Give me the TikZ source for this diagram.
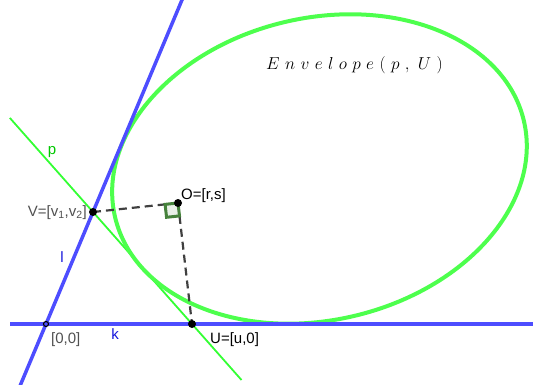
\RequirePackage{fix-cm}
\documentclass[tikz,border=0pt]{standalone}
\usepackage{fontspec}
\setsansfont{Liberation Sans}
\usetikzlibrary{calc}
\definecolor{lblue}{RGB}{77,77,255}
\definecolor{lgreen}{RGB}{77,255,77}
\definecolor{pgreen}{RGB}{51,255,51}
\definecolor{ragreen}{RGB}{70,130,60}
\definecolor{dgray}{RGB}{64,64,64}
\definecolor{lblgray}{RGB}{80,80,80}
\definecolor{tblue}{RGB}{20,20,220}
\definecolor{tgreen}{RGB}{0,200,0}
\newcommand\envsp{\kern5.4pt}
\begin{document}
\begin{tikzpicture}[x=1pt,y=1pt,
  bline/.style={lblue,line width=3.5pt},
  pline/.style={pgreen,line width=1.8pt},
  envel/.style={lgreen,line width=4pt},
  dashseg/.style={dgray,line width=2.2pt,dash pattern=on 8pt off 5pt},
  rangle/.style={draw=ragreen,fill=ragreen!12,line width=3pt},
  ptdot/.style={circle,fill=black,inner sep=0pt,minimum size=8pt},
  ptring/.style={circle,draw=black,line width=1.1pt,inner sep=0pt,minimum size=5pt},
  lbl/.style={font=\fontsize{15}{18}\selectfont\sffamily,inner sep=0pt}
]
\useasboundingbox (0,-385) rectangle (533,0);
\clip (0,-385) rectangle (533,0);
\coordinate (Z) at (46,-324);
\coordinate (V) at (93,-212);
\coordinate (O) at (178,-203);
\coordinate (U) at (192,-324);
\coordinate (kL) at (10,-324);
\coordinate (kR) at (540,-324);
\coordinate (C) at (319.5,-169);
\coordinate (lA) at ($(Z)!-0.6!(V)$);
\coordinate (lB) at ($(Z)!3!(V)$);
\coordinate (pA) at ($(V)!-0.84!(U)$);
\coordinate (pB) at ($(V)!1.5!(U)$);
% lines
\draw[pline] (pA) -- (pB);
\draw[envel, rotate around={13.3:(C)}] (C) ellipse [x radius=210pt, y radius=151pt];
\draw[bline] (kL) -- (kR);
\draw[bline] (lA) -- (lB);
% dashed segments
\draw[dashseg] (V) -- (O);
\draw[dashseg] (O) -- (U);
% right angle
\coordinate (ra1) at ($(O)!13pt!(V)$);
\coordinate (ra3) at ($(O)!13pt!(U)$);
\coordinate (ra2) at ($(ra1)+(ra3)-(O)$);
\draw[rangle] (O) -- (ra1) -- (ra2) -- (ra3) -- cycle;
% points
\node[ptdot] (Vp) at (V) {};
\node[ptdot] (Op) at (O) {};
\node[ptdot] (Up) at (U) {};
\node[ptring] (Zp) at (Z) {};
% labels
\node[lbl, anchor=base, text=tgreen] (plbl) at (52,-155) {p};
\node[lbl, anchor=base east, text=lblgray] (Vlbl) at (87,-216) {V=[v\textsubscript{1},v\textsubscript{2}]};
\node[lbl, anchor=base west] (Olbl) at (181,-199.5) {O=[r,s]};
\node[lbl, anchor=base, text=tblue] (llbl) at (62,-262) {l};
\node[lbl, anchor=base west, text=lblgray] (Zlbl) at (51,-343) {[0,0]};
\node[lbl, anchor=base, text=tblue] (klbl) at (115,-339) {k};
\node[lbl, anchor=base west] (Ulbl) at (210,-343) {U=[u,0]};
\node[anchor=base west, inner sep=0pt, font=\LARGE] (env) at (266,-70)
  {$E\envsp n\envsp v\envsp e\envsp l\envsp o\envsp p\envsp e\envsp (\envsp p\envsp ,\envsp U\envsp )$};
\end{tikzpicture}
\end{document}
